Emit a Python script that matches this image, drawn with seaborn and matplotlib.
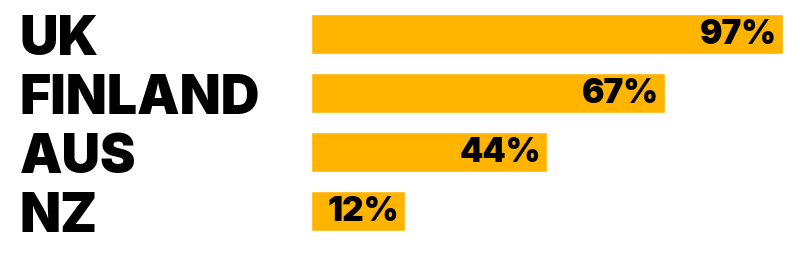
import matplotlib
matplotlib.use("Agg")
import matplotlib.pyplot as plt
import seaborn as sns
import pandas as pd

countries = ["UK", "FINLAND", "AUS", "NZ"]
values = [97, 67, 44, 12]            # printed percentages
bar_lengths = [100, 75, 50, 20]      # drawn bar lengths

sns.set_theme(style="white")
plt.rcParams["font.family"] = ["Inter", "DejaVu Sans"]

df = pd.DataFrame({"country": countries, "length": bar_lengths})

fig = plt.figure(figsize=(8, 2.55), dpi=100)
ax = fig.add_axes([311 / 800, 0.052, 472 / 800, 0.9286])

sns.barplot(data=df, x="length", y="country", orient="h", color="#FFB400",
            saturation=1, width=0.675, ax=ax)

ax.set_xlim(0, 100)
ax.set_ylim(3.5, -0.5)
ax.set_xlabel("")
ax.set_ylabel("")
ax.set_xticks([])
for s in ax.spines.values():
    s.set_visible(False)

labels = ax.bar_label(ax.containers[0], labels=[f"{v}%" for v in values],
                      padding=-4.5, fontsize=24, fontweight="black", color="black")
for t in labels:
    t.set_ha("right")

ax.tick_params(axis="y", length=0, pad=291 * 72 / 100)
for t in ax.get_yticklabels():
    t.set_ha("left")
    t.set_fontweight("black")
    t.set_fontsize(38.5)
    t.set_color("black")

fig.savefig("out.png", dpi=100, facecolor="white")
